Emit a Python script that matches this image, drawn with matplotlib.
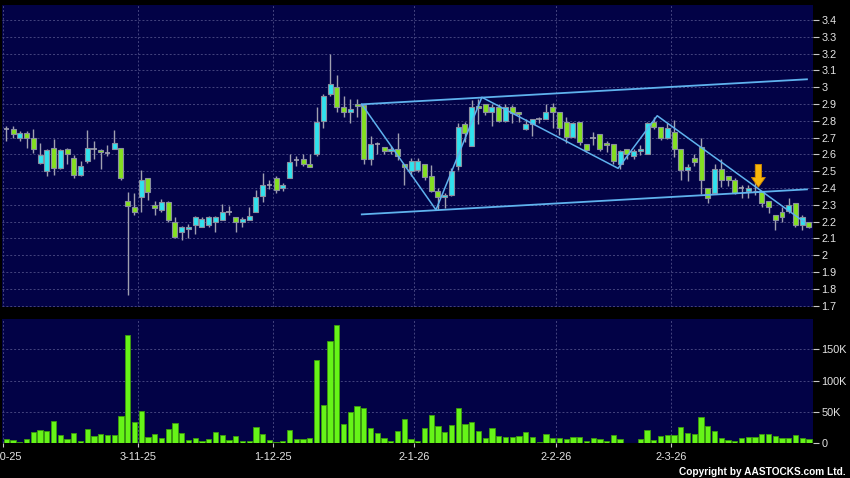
import matplotlib
matplotlib.use("Agg")
import matplotlib.pyplot as plt
import numpy as np

plt.rcParams["font.family"] = ["Liberation Sans", "DejaVu Sans"]

# month starts (index of first trading day) and their labels
month_start_idx = [0, 20, 40, 61, 82, 99]
month_labels = ["2-10-25", "3-11-25", "1-12-25", "2-1-26", "2-2-26", "2-3-26"]

# daily OHLC
opens = [2.75, 2.75, 2.70, 2.73, 2.70, 2.55, 2.50, 2.64, 2.52, 2.635,
         2.58, 2.48, 2.56, 2.635, 2.625, 2.61, 2.635, 2.64, 2.32, 2.285,
         2.345, 2.46, 2.30, 2.27, 2.315, 2.20, 2.14, 2.155, 2.18, 2.17,
         2.18, 2.195, 2.21, 2.255, 2.225, 2.195, 2.21, 2.255, 2.35, 2.42,
         2.46, 2.40, 2.46, 2.565, 2.575, 2.545, 2.60, 2.80, 2.96, 3.00,
         2.88, 2.855, 2.90, 2.895, 2.575, 2.66, 2.645, 2.62, 2.63, 2.545,
         2.50, 2.505, 2.545, 2.47, 2.38, 2.345, 2.36, 2.53, 2.78, 2.65,
         2.89, 2.90, 2.85, 2.88, 2.80, 2.88, 2.85, 2.75, 2.78, 2.81,
         2.81, 2.885, 2.855, 2.795, 2.705, 2.795, 2.66, 2.695, 2.72, 2.665,
         2.66, 2.545, 2.63, 2.59, 2.62, 2.605, 2.795, 2.765, 2.695, 2.735,
         2.63, 2.505, 2.58, 2.645, 2.40, 2.37, 2.515, 2.47, 2.445, 2.40,
         2.38, 2.385, 2.38, 2.32, 2.24, 2.255, 2.265, 2.31, 2.18, 2.195]
highs = [2.77, 2.77, 2.74, 2.74, 2.75, 2.67, 2.635, 2.69, 2.635, 2.64,
         2.595, 2.56, 2.745, 2.68, 2.635, 2.655, 2.745, 2.64, 2.375, 2.37,
         2.51, 2.46, 2.32, 2.335, 2.32, 2.225, 2.175, 2.185, 2.235, 2.23,
         2.235, 2.235, 2.305, 2.29, 2.225, 2.23, 2.285, 2.39, 2.49, 2.45,
         2.47, 2.43, 2.60, 2.59, 2.60, 2.60, 2.88, 2.96, 3.195, 3.075,
         2.945, 2.93, 2.93, 2.895, 2.71, 2.675, 2.645, 2.65, 2.725, 2.545,
         2.58, 2.58, 2.545, 2.535, 2.40, 2.37, 2.52, 2.785, 2.79, 2.925,
         2.93, 2.90, 2.90, 2.90, 2.90, 2.895, 2.855, 2.81, 2.81, 2.825,
         2.90, 2.905, 2.855, 2.825, 2.795, 2.795, 2.66, 2.735, 2.72, 2.68,
         2.66, 2.625, 2.635, 2.635, 2.655, 2.795, 2.825, 2.765, 2.785, 2.805,
         2.63, 2.545, 2.605, 2.695, 2.40, 2.545, 2.575, 2.47, 2.46, 2.42,
         2.42, 2.435, 2.38, 2.32, 2.24, 2.285, 2.34, 2.31, 2.24, 2.20]
lows = [2.68, 2.70, 2.68, 2.64, 2.61, 2.54, 2.47, 2.48, 2.515, 2.54,
        2.46, 2.47, 2.55, 2.57, 2.515, 2.59, 2.63, 2.445, 1.765, 2.24,
        2.26, 2.33, 2.24, 2.26, 2.195, 2.10, 2.09, 2.10, 2.125, 2.165,
        2.17, 2.14, 2.21, 2.24, 2.14, 2.17, 2.21, 2.255, 2.315, 2.395,
        2.37, 2.38, 2.46, 2.53, 2.53, 2.525, 2.59, 2.755, 2.945, 2.855,
        2.825, 2.785, 2.825, 2.545, 2.535, 2.60, 2.60, 2.60, 2.565, 2.42,
        2.47, 2.495, 2.445, 2.375, 2.27, 2.28, 2.35, 2.505, 2.675, 2.65,
        2.78, 2.835, 2.77, 2.795, 2.795, 2.785, 2.795, 2.745, 2.71, 2.785,
        2.81, 2.755, 2.715, 2.665, 2.705, 2.655, 2.615, 2.655, 2.62, 2.615,
        2.545, 2.515, 2.57, 2.575, 2.595, 2.60, 2.75, 2.685, 2.69, 2.585,
        2.45, 2.44, 2.53, 2.365, 2.31, 2.37, 2.405, 2.41, 2.365, 2.34,
        2.34, 2.36, 2.285, 2.25, 2.15, 2.20, 2.25, 2.165, 2.15, 2.16]
closes = [2.75, 2.72, 2.73, 2.70, 2.635, 2.595, 2.625, 2.52, 2.625, 2.605,
          2.48, 2.53, 2.64, 2.635, 2.615, 2.61, 2.67, 2.46, 2.29, 2.26,
          2.45, 2.375, 2.28, 2.315, 2.21, 2.11, 2.165, 2.17, 2.225, 2.215,
          2.225, 2.225, 2.26, 2.255, 2.20, 2.215, 2.235, 2.345, 2.42, 2.42,
          2.39, 2.42, 2.555, 2.565, 2.545, 2.525, 2.795, 2.945, 3.02, 2.88,
          2.85, 2.87, 2.89, 2.575, 2.66, 2.66, 2.62, 2.63, 2.59, 2.525,
          2.56, 2.56, 2.465, 2.38, 2.345, 2.36, 2.50, 2.765, 2.725, 2.88,
          2.875, 2.85, 2.88, 2.80, 2.88, 2.845, 2.84, 2.78, 2.81, 2.81,
          2.855, 2.85, 2.755, 2.705, 2.785, 2.675, 2.625, 2.695, 2.635, 2.655,
          2.56, 2.62, 2.60, 2.62, 2.63, 2.785, 2.765, 2.695, 2.755, 2.635,
          2.505, 2.525, 2.555, 2.445, 2.34, 2.515, 2.445, 2.445, 2.37, 2.40,
          2.40, 2.38, 2.31, 2.285, 2.21, 2.225, 2.30, 2.18, 2.225, 2.165]

# daily volume in thousands of shares
volume_k = [6.4, 5.3, 2.7, 6.9, 18.6, 21.3, 19.2, 35.6, 13.3, 6.4,
            16, 4.3, 22.3, 12.2, 14.9, 13.8, 13.8, 43.6, 173, 34,
            51.6, 10.6, 15.4, 9, 22.3, 32.5, 16, 5.3, 8, 4.3,
            7.4, 17.6, 12.8, 5.3, 11.7, 4.3, 4.3, 26.6, 14.9, 4.8,
            1.6, 3.2, 20.7, 6.4, 6.4, 8.5, 132, 61.7, 163, 188,
            30.3, 50, 59, 55.9, 24.5, 17, 8, 3.2, 19.7, 38.8,
            6.4, 4.3, 24.5, 45.2, 27.7, 17.6, 29.3, 55.9, 30.3, 34.6,
            19.7, 9, 25, 12.2, 10.6, 10.6, 11.7, 17.6, 10.6, 1.6,
            14.4, 8.5, 8.5, 7.4, 10.6, 10.6, 3.2, 8.5, 6.9, 4.3,
            13.3, 6.9, 1.1, 1.1, 6.4, 21.3, 5.3, 11.7, 13.3, 12.8,
            26.6, 16, 14.9, 42, 27.1, 19.2, 8.5, 5.3, 4.3, 8.5,
            9.6, 10.1, 14.4, 14.4, 11.7, 8.5, 8.5, 13.3, 8.5, 7]

# drawn trend lines (x in trading-day index, y in price)
channel_x = [52.7, 118.7]
channel_top = [2.898, 3.047]
channel_bottom = [2.243, 2.392]
zigzag_x = [52.7, 63.7, 70.5, 90.7, 96.5, 118.4]
zigzag_y = [2.898, 2.27, 2.94, 2.517, 2.83, 2.195]
arrow_x = 111.5
arrow_top = 2.54
arrow_tip = 2.405

PANEL = "#020246"
GRID = "#44447e"
UP = "#30e2ee"
DOWN = "#84e020"
EDGE = "#8a8fa0"
WICK = "#a0a0b0"
VOL = "#66f418"
VOL_EDGE = "#3c9c0c"
LINE = "#5fb2ee"
TXT = "#e4e4e4"

o = np.array(opens)
h = np.array(highs)
l = np.array(lows)
c = np.array(closes)
x = np.arange(len(o))
up = c > o + 1e-6
down = c < o - 1e-6
flat = ~(up | down)

fig = plt.figure(figsize=(8.5, 4.78), dpi=100, facecolor="black")
ax = fig.add_axes([0.0025, 0.3577, 0.9540, 0.6318])
axv = fig.add_axes([0.0025, 0.0726, 0.9540, 0.2600], sharex=ax)

bounds = [i - 0.5 for i in month_start_idx]

for a in (ax, axv):
    a.set_facecolor(PANEL)
    for s in a.spines.values():
        s.set_visible(False)
    a.yaxis.tick_right()
    a.set_xticks(bounds)
    a.grid(True, color=GRID, linestyle=(0, (2, 2)), linewidth=0.7)
    a.set_axisbelow(True)
    a.tick_params(axis="y", length=4, width=0.8, color="#c8c8c8",
                  labelcolor=TXT, labelsize=7.8, pad=2)

# candles
ax.vlines(x, l, h, color=WICK, linewidth=1.0, zorder=2)
ax.bar(x[up], (c - o)[up], bottom=o[up], width=0.74, color=UP,
       edgecolor=EDGE, linewidth=0.8, zorder=3)
ax.bar(x[down], (o - c)[down], bottom=c[down], width=0.74, color=DOWN,
       edgecolor=EDGE, linewidth=0.8, zorder=3)
ax.hlines(o[flat], x[flat] - 0.4, x[flat] + 0.4, color=WICK, linewidth=1.2, zorder=3)

# trend lines
ax.plot(channel_x, channel_top, color=LINE, linewidth=1.3, zorder=4)
ax.plot(channel_x, channel_bottom, color=LINE, linewidth=1.3, zorder=4)
ax.plot(zigzag_x, zigzag_y, color=LINE, linewidth=1.1, zorder=4)

ax.annotate("", xy=(arrow_x, arrow_tip), xytext=(arrow_x, arrow_top),
            arrowprops=dict(arrowstyle="simple,head_length=0.7,head_width=1.0,tail_width=0.45",
                            fc="#f8b60a", ec="#d08800", linewidth=0.6,
                            shrinkA=0, shrinkB=0), zorder=6)

ax.set_ylim(1.6917, 3.489)
yt = np.round(np.arange(1.7, 3.45, 0.1), 1)
ax.set_yticks(yt)
ax.set_yticklabels(["%g" % v for v in yt])
ax.tick_params(axis="x", bottom=False, labelbottom=False)

# volume
axv.bar(x, np.array(volume_k) * 1000, width=0.78, color=VOL,
        edgecolor=VOL_EDGE, linewidth=0.6, zorder=3)
axv.set_ylim(0, 198000)
axv.set_yticks([0, 50000, 100000, 150000])
axv.set_yticklabels(["0", "50K", "100K", "150K"])
axv.set_xticklabels(month_labels)
axv.tick_params(axis="x", length=3, width=0.8, color="#c8c8c8",
                labelcolor=TXT, labelsize=7.8, pad=3)

ax.set_xlim(-0.62, 119.6)

fig.text(0.9953, 0.0119, "Copyright by AASTOCKS.com Ltd.", ha="right", va="center",
         color="white", fontsize=7.3, fontweight="bold")

fig.savefig("out.png", dpi=100, facecolor="black")
